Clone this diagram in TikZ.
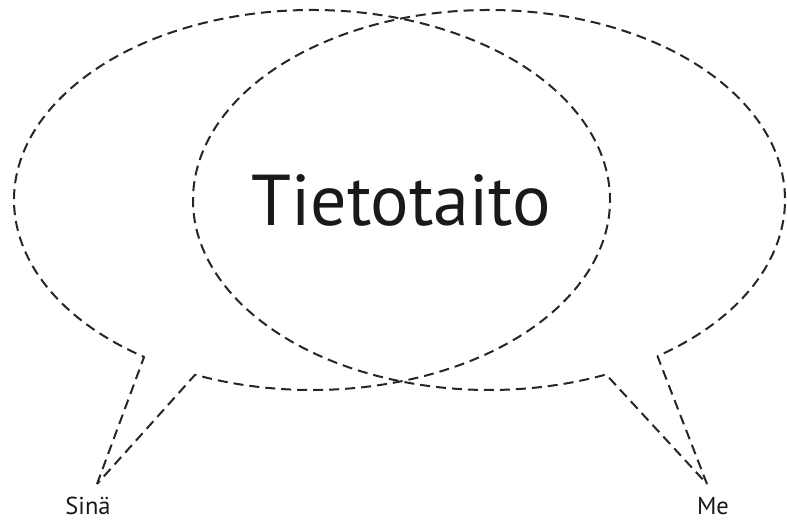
\documentclass[tikz,border=0pt]{standalone}
\usepackage{fontspec}
\setmainfont{PT Sans}
\usetikzlibrary{calc}
\begin{document}
\begin{tikzpicture}[x=1pt,y=1pt,
  bubble/.style={draw=black!85,line width=2pt,dash pattern=on 10pt off 6pt,line join=round},
  biglabel/.style={font=\fontsize{72}{80}\selectfont,text=black!90,anchor=base,inner sep=0pt},
  smalllabel/.style={font=\fontsize{24.5}{28}\selectfont,text=black!90,anchor=base,inner sep=0pt}]
\useasboundingbox (0,0) rectangle (787,524);
% centres
\coordinate (cL) at (312,324);
\coordinate (cR) at (489,324);
% gap points and tips
\coordinate (L1) at ($(cL)+(235.7:298 and 190)$);
\coordinate (L2) at ($(cL)+(246.9:298 and 190)$);
\coordinate (tipL) at (97,40);
\coordinate (R1) at ($(cR)+(293.3:296 and 190)$);
\coordinate (R2) at ($(cR)+(304.7:296 and 190)$);
\coordinate (tipR) at (707,40);
% left bubble
\draw[bubble] (tipL) -- (L1) arc[start angle=235.7,end angle=-113.1,x radius=298,y radius=190] -- cycle;
% right bubble
\draw[bubble] (tipR) -- (R2) arc[start angle=-55.3,end angle=293.3,x radius=296,y radius=190] -- cycle;
\node[biglabel] (t) at (401,298) {Tietotaito};
\node[smalllabel] (s) at (88,9) {Sinä};
\node[smalllabel] (m) at (713,9) {Me};
\end{tikzpicture}
\end{document}
